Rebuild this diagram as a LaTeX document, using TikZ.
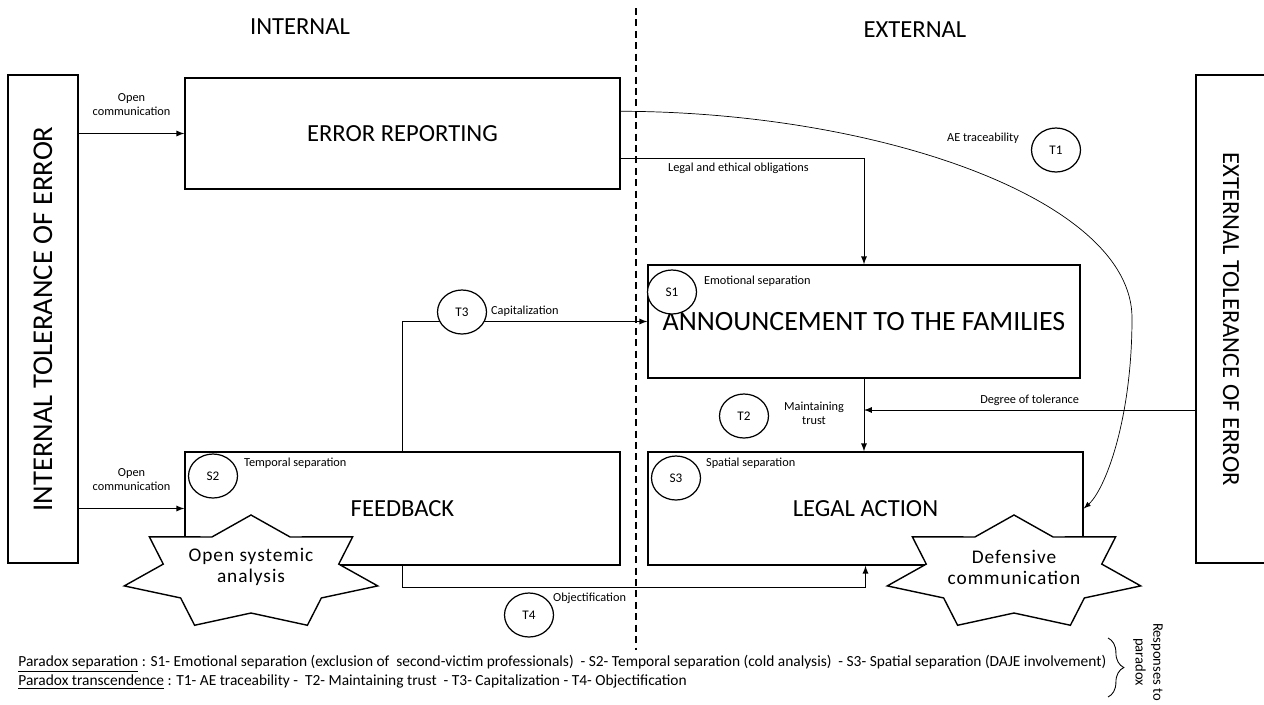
\documentclass[tikz,border=0pt]{standalone}
\usepackage{fontspec}
\setmainfont{Carlito}
\usetikzlibrary{shapes.geometric, decorations.pathreplacing}

\tikzset{
  block/.style = {draw, line width=0.85pt, inner sep=0pt, minimum width=8.7cm, minimum height=2.26cm, font=\fontsize{14}{16}\selectfont},
  sidebox/.style = {draw, line width=0.85pt, inner sep=0pt, minimum width=1.4cm, minimum height=9.76cm, font=\fontsize{16.3}{18}\selectfont},
  tag/.style = {ellipse, draw, line width=0.7pt, fill=white, inner sep=0pt, minimum width=0.98cm, minimum height=0.88cm, font=\fontsize{7.5}{9}\selectfont},
  lbl/.style = {inner sep=1pt, align=center, font=\fontsize{7}{8}\selectfont},
  conn/.style = {line width=0.55pt, -latex},
  startext/.style = {align=center, font=\fontsize{11}{12}\selectfont\addfontfeature{LetterSpace=5}},
}

% seven-pointed star, stretched sideways
\newcommand{\starburst}[1]{%
  \draw[line width=0.8pt, fill=white, shift={(#1)}] (-90:130 and 58)
    \foreach \k in {1,...,13} {-- ({-90+\k*180/7}:{110+20*cos(\k*180)} and {49+9*cos(\k*180)})} -- cycle;}

\begin{document}
\begin{tikzpicture}[x=0.02cm, y=-0.02cm]
  \useasboundingbox (0,0) rectangle (1264,704);

  % internal / external divide
  \draw[dash pattern=on 4pt off 2.5pt, line width=0.6pt] (636,8) -- (636,650);
  \node[font=\fontsize{14}{16}\selectfont] (intl) at (300,27) {INTERNAL};
  \node[font=\fontsize{14}{16}\selectfont] (extl) at (915,30) {EXTERNAL};

  % tolerance boxes
  \node[sidebox] (itol) at (43,319) {\rotatebox{90}{INTERNAL TOLERANCE OF ERROR}};
  \node[sidebox, font=\fontsize{14}{16}\selectfont] (etol) at (1231,319) {\rotatebox{-90}{EXTERNAL TOLERANCE OF ERROR}};

  % main blocks
  \node[block, minimum height=2.22cm] (report) at (402.5,133.5) {ERROR REPORTING};
  \node[block, minimum width=8.64cm, font=\fontsize{15.9}{18}\selectfont] (announce) at (864,321.5) {ANNOUNCEMENT TO THE FAMILIES};
  \node[block] (feedback) at (402.5,508.5) {FEEDBACK};
  \node[block] (legal) at (865.5,508.5) {LEGAL ACTION};

  % connectors
  \draw[conn] (itol.east |- report.west) -- (report.west) node[lbl, midway, above=9pt] (oc1) {Open\\communication};
  \draw[conn] (itol.east |- feedback.west) -- (feedback.west) node[lbl, midway, above=9pt] (oc2) {Open\\communication};

  \draw[conn] ([yshift=0.62cm]report.south east) -| (announce.north);
  \node[lbl, anchor=west] (leol) at (666,168) {Legal and ethical obligations};

  \draw[conn, line width=0.4pt] ([yshift=-0.68cm]report.north east) .. controls (880,112) and (1132,200) .. (1132,318)
    .. controls (1132,420) and (1105,490) .. (legal.east);
  \node[lbl, anchor=east] (aetl) at (1021,138) {AE traceability};
  \node[tag] (t1) at (1056,150) {T1};

  \draw[conn] (feedback.north) |- (announce.west);
  \node[tag] (t3) at (462,312) {T3};
  \node[lbl, anchor=west] (capl) at (489,311) {Capitalization};

  \draw[conn] (announce.south) -- (announce.south |- legal.north);
  \coordinate (dtend) at (announce.south |- 0,410);
  \draw[conn] (etol.west |- dtend) -- (dtend) node[lbl, midway, above=1pt] (dtl) {Degree of tolerance};
  \node[tag] (t2) at (744,416) {T2};
  \node[lbl] (mtl) at (814,413) {Maintaining\\trust};

  \draw[conn] (feedback.south) -- ++(0,22) -| (legal.south);
  \node[tag] (t4) at (529,615) {T4};
  \node[lbl, anchor=west] (objl) at (551,598) {Objectification};

  % separation tags
  \node[tag] (s1) at (672,292) {S1};
  \node[lbl, anchor=west] (s1l) at (702,281) {Emotional separation};
  \node[tag] (s2) at (213,476) {S2};
  \node[lbl, anchor=west] (s2l) at (242,463) {Temporal separation};
  \node[tag] (s3) at (676,478) {S3};
  \node[lbl, anchor=west] (s3l) at (704,463) {Spatial separation};

  % stars
  \starburst{251,573}
  \node[startext] (osa) at (251,567) {Open systemic\\analysis};
  \starburst{1014,573}
  \node[startext] (defc) at (1014,567) {Defensive\\communication};

  % legend
  \node[anchor=north west, align=left, inner sep=0pt, font=\fontsize{8.78}{10.8}\selectfont] (legend) at (18,655)
    {\underline{Paradox separation} : S1- Emotional separation (exclusion of\ \ second-victim professionals)\ \ - S2- Temporal separation (cold analysis)\ \ - S3- Spatial separation (DAJE involvement)\\
     \underline{Paradox transcendence} : T1- AE traceability -\ \ T2- Maintaining trust\ \ - T3- Capitalization - T4- Objectification};
  \draw[decorate, decoration={brace, amplitude=9pt}, line width=0.5pt] (1108,638) -- (1108,697);
  \node[rotate=-90, align=center, font=\fontsize{8.3}{10}\selectfont] (resp) at (1148,662) {Responses to\\paradox};
\end{tikzpicture}
\end{document}
